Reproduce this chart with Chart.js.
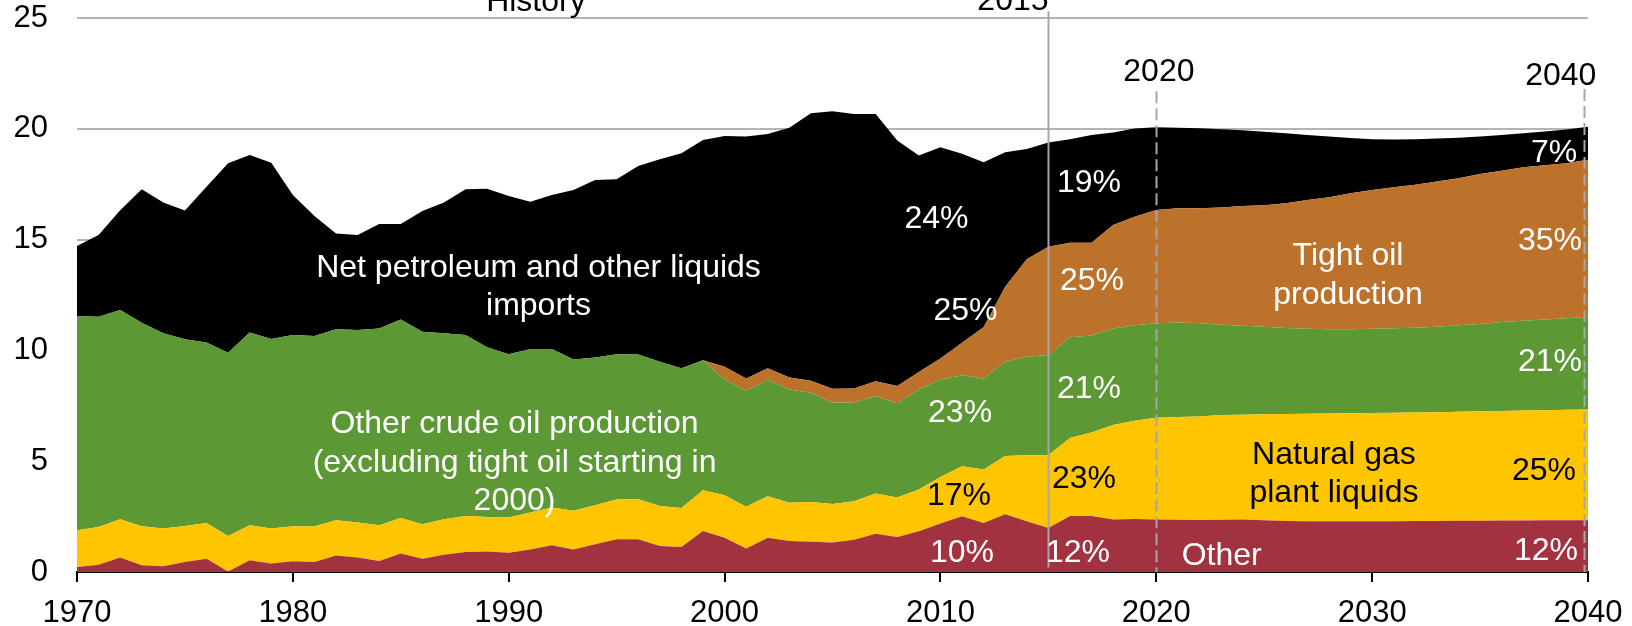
<!DOCTYPE html>
<html>
<head>
<meta charset="utf-8">
<script src="https://cdn.jsdelivr.net/npm/chart.js@4.4.1/dist/chart.umd.min.js"></script>
<style>
  html, body { margin: 0; padding: 0; background: #fff; }
  #wrap { width: 1632px; height: 626px; position: relative; }
</style>
</head>
<body>
<div id="wrap"><canvas id="liquids-chart"></canvas></div>
<script>
const years = [1970,1971,1972,1973,1974,1975,1976,1977,1978,1979,
  1980,1981,1982,1983,1984,1985,1986,1987,1988,1989,
  1990,1991,1992,1993,1994,1995,1996,1997,1998,1999,
  2000,2001,2002,2003,2004,2005,2006,2007,2008,2009,
  2010,2011,2012,2013,2014,2015,2016,2017,2018,2019,
  2020,2021,2022,2023,2024,2025,2026,2027,2028,2029,
  2030,2031,2032,2033,2034,2035,2036,2037,2038,2039,2040];

// million barrels per day, stacked bottom to top
const otherLiquids = [0.23,0.33,0.65,0.30,0.26,0.45,0.60,0.02,0.53,0.38,
  0.48,0.45,0.75,0.65,0.50,0.83,0.60,0.78,0.90,0.93,
  0.87,1.01,1.21,1.01,1.25,1.48,1.48,1.17,1.13,1.85,
  1.54,1.06,1.54,1.40,1.36,1.33,1.46,1.73,1.58,1.84,
  2.19,2.52,2.21,2.61,2.29,1.99,2.53,2.53,2.37,2.39,
  2.37,2.36,2.35,2.36,2.37,2.34,2.30,2.29,2.29,2.29,
  2.29,2.29,2.30,2.30,2.31,2.31,2.32,2.32,2.33,2.33,2.34];

const gasPlantLiquids = [1.65,1.70,1.73,1.76,1.70,1.63,1.61,1.61,1.58,1.58,
  1.58,1.61,1.59,1.58,1.61,1.61,1.55,1.60,1.63,1.55,
  1.59,1.67,1.70,1.75,1.76,1.79,1.80,1.81,1.76,1.84,
  1.92,1.88,1.88,1.73,1.80,1.74,1.73,1.81,1.78,1.88,
  2.10,2.25,2.41,2.63,2.98,3.28,3.52,3.77,4.26,4.43,
  4.59,4.64,4.67,4.72,4.73,4.78,4.83,4.85,4.86,4.87,
  4.89,4.90,4.90,4.91,4.92,4.94,4.95,4.97,4.97,4.99,4.99];

const otherCrude = [9.67,9.49,9.44,9.19,8.81,8.42,8.15,8.26,8.70,8.56,
  8.63,8.59,8.62,8.69,8.88,8.96,8.69,8.39,8.16,7.66,
  7.37,7.38,7.15,6.83,6.67,6.56,6.53,6.51,6.30,5.87,
  5.23,5.24,5.24,5.11,4.93,4.58,4.46,4.40,4.25,4.52,
  4.40,4.11,4.11,4.25,4.44,4.52,4.54,4.37,4.36,4.32,
  4.26,4.26,4.21,4.08,4.01,3.95,3.88,3.84,3.80,3.80,
  3.80,3.81,3.82,3.86,3.90,3.94,4.01,4.05,4.10,4.13,4.19];

const tightOil = [0,0,0,0,0,0,0,0,0,0,
  0,0,0,0,0,0,0,0,0,0,
  0,0,0,0,0,0,0,0,0,0,
  0.57,0.55,0.53,0.54,0.54,0.62,0.63,0.67,0.78,0.79,
  0.95,1.46,2.31,3.38,4.40,4.89,4.27,4.19,4.67,4.89,
  5.12,5.15,5.19,5.29,5.41,5.48,5.63,5.81,5.96,6.13,
  6.26,6.36,6.45,6.55,6.64,6.77,6.83,6.93,6.96,7.00,7.08];

const netImports = [3.16,3.69,4.51,6.02,5.90,5.81,7.03,8.56,8.01,7.95,
  6.32,5.42,4.32,4.29,4.71,4.30,5.45,5.90,6.58,7.16,
  7.14,6.65,6.95,7.65,8.01,7.89,8.51,9.14,9.71,9.94,
  10.42,10.92,10.57,11.27,12.07,12.52,12.39,12.06,11.08,9.76,
  9.53,8.53,7.45,6.07,4.98,4.70,4.67,4.86,4.17,3.98,
  3.73,3.64,3.60,3.53,3.41,3.32,3.16,2.93,2.74,2.49,
  2.29,2.16,2.06,1.94,1.83,1.69,1.61,1.53,1.52,1.52,1.49];

const yTicks = [0, 5, 10, 15, 20, 25];
const xTicks = [1970, 1980, 1990, 2000, 2010, 2020, 2030, 2040];

const FONT = '"Liberation Sans", Arial, sans-serif';

function toPoints(values) {
  return values.map((v, i) => ({ x: years[i], y: v }));
}

// marker lines and text notes, placed in data units
const markerLines = [
  { year: 2015, from: 0.2, to: 25.3, dash: [] },
  { year: 2020, from: 0, to: 21.7, dash: [12, 5] },
  { year: 2039.8, from: 0, to: 21.8, dash: [12, 5] }
];

const notes = [
  { text: 'History', year: 1991.26, value: 25.31, color: '#000' },
  { text: '2015', year: 2013.36, value: 25.37, color: '#000' },
  { text: '2020', year: 2020.12, value: 22.14, color: '#000' },
  { text: '2040', year: 2038.74, value: 21.99, color: '#000' },
  { text: 'Net petroleum and other liquids', year: 1991.38, value: 13.31, color: '#fff' },
  { text: 'imports', year: 1991.38, value: 11.60, color: '#fff' },
  { text: 'Other crude oil production', year: 1990.27, value: 6.28, color: '#fff' },
  { text: '(excluding tight oil starting in', year: 1990.27, value: 4.52, color: '#fff' },
  { text: '2000)', year: 1990.27, value: 2.82, color: '#fff' },
  { text: '24%', year: 2009.82, value: 15.51, color: '#fff' },
  { text: '25%', year: 2011.16, value: 11.37, color: '#fff' },
  { text: '23%', year: 2010.91, value: 6.78, color: '#fff' },
  { text: '17%', year: 2010.86, value: 3.01, color: '#000' },
  { text: '10%', year: 2011.0, value: 0.45, color: '#fff' },
  { text: '19%', year: 2016.88, value: 17.17, color: '#fff' },
  { text: '25%', year: 2017.02, value: 12.73, color: '#fff' },
  { text: '21%', year: 2016.88, value: 7.83, color: '#fff' },
  { text: '23%', year: 2016.65, value: 3.77, color: '#000' },
  { text: '12%', year: 2016.37, value: 0.45, color: '#fff' },
  { text: 'Tight oil', year: 2028.88, value: 13.86, color: '#fff' },
  { text: 'production', year: 2028.88, value: 12.09, color: '#fff' },
  { text: 'Natural gas', year: 2028.23, value: 4.87, color: '#000' },
  { text: 'plant liquids', year: 2028.23, value: 3.16, color: '#000' },
  { text: 'Other', year: 2023.03, value: 0.30, color: '#fff' },
  { text: '7%', year: 2038.43, value: 18.52, color: '#fff' },
  { text: '35%', year: 2038.24, value: 14.53, color: '#fff' },
  { text: '21%', year: 2038.24, value: 9.07, color: '#fff' },
  { text: '25%', year: 2037.96, value: 4.14, color: '#000' },
  { text: '12%', year: 2038.05, value: 0.53, color: '#fff' }
];

const notesPlugin = {
  id: 'notes',
  afterDatasetsDraw(chart) {
    const ctx = chart.ctx;
    const xs = chart.scales.x;
    const ys = chart.scales.y;
    ctx.save();
    ctx.strokeStyle = '#a6a6a6';
    ctx.lineWidth = 2;
    markerLines.forEach(m => {
      const px = Math.round(xs.getPixelForValue(m.year)) + 0.5;
      ctx.setLineDash(m.dash);
      ctx.beginPath();
      ctx.moveTo(px, ys.getPixelForValue(m.to));
      ctx.lineTo(px, ys.getPixelForValue(m.from));
      ctx.stroke();
    });
    ctx.setLineDash([]);
    ctx.font = '32px ' + FONT;
    ctx.textAlign = 'center';
    ctx.textBaseline = 'alphabetic';
    notes.forEach(n => {
      ctx.fillStyle = n.color;
      ctx.fillText(n.text, xs.getPixelForValue(n.year), ys.getPixelForValue(n.value));
    });
    ctx.restore();
  }
};

function layer(label, values, color, fill) {
  return {
    label: label,
    data: toPoints(values),
    backgroundColor: color,
    borderColor: color,
    borderWidth: 0,
    pointRadius: 0,
    tension: 0,
    fill: fill
  };
}

const ctx = document.getElementById('liquids-chart').getContext('2d');

new Chart(ctx, {
  type: 'line',
  data: {
    datasets: [
      layer('Other', otherLiquids, '#a33241', 'origin'),
      layer('Natural gas plant liquids', gasPlantLiquids, '#ffc600', '-1'),
      layer('Other crude oil production', otherCrude, '#5c9834', '-1'),
      layer('Tight oil production', tightOil, '#bd722c', '-1'),
      layer('Net petroleum and other liquids imports', netImports, '#000000', '-1')
    ]
  },
  options: {
    responsive: true,
    maintainAspectRatio: false,
    animation: false,
    layout: { padding: { top: 18, right: 44, left: 0, bottom: 0 } },
    plugins: {
      legend: { display: false },
      tooltip: { enabled: false }
    },
    scales: {
      x: {
        type: 'linear',
        min: 1970,
        max: 2040,
        afterBuildTicks: (scale) => { scale.ticks = xTicks.map(v => ({ value: v })); },
        afterFit: (scale) => {
          scale.height = 54;
          scale.paddingLeft = 0;
          scale.paddingRight = 0;
        },
        border: { display: true, color: '#000', width: 2 },
        grid: {
          display: true,
          drawOnChartArea: false,
          drawTicks: true,
          tickLength: 10,
          color: '#000',
          lineWidth: 2
        },
        ticks: {
          color: '#000',
          padding: 13,
          maxRotation: 0,
          autoSkip: false,
          font: { size: 31, family: FONT },
          callback: (v) => String(v)
        }
      },
      y: {
        stacked: true,
        min: 0,
        max: 25,
        afterBuildTicks: (scale) => { scale.ticks = yTicks.map(v => ({ value: v })); },
        afterFit: (scale) => {
          scale.width = 77;
          scale.paddingTop = 0;
          scale.paddingBottom = 0;
        },
        border: { display: false },
        grid: {
          drawTicks: false,
          lineWidth: 2,
          color: (c) => c.tick && c.tick.value === 0 ? 'rgba(0,0,0,0)' : '#b4b4b4'
        },
        ticks: {
          color: '#000',
          padding: 29,
          font: { size: 31, family: FONT }
        }
      }
    }
  },
  plugins: [notesPlugin]
});
</script>
</body>
</html>
